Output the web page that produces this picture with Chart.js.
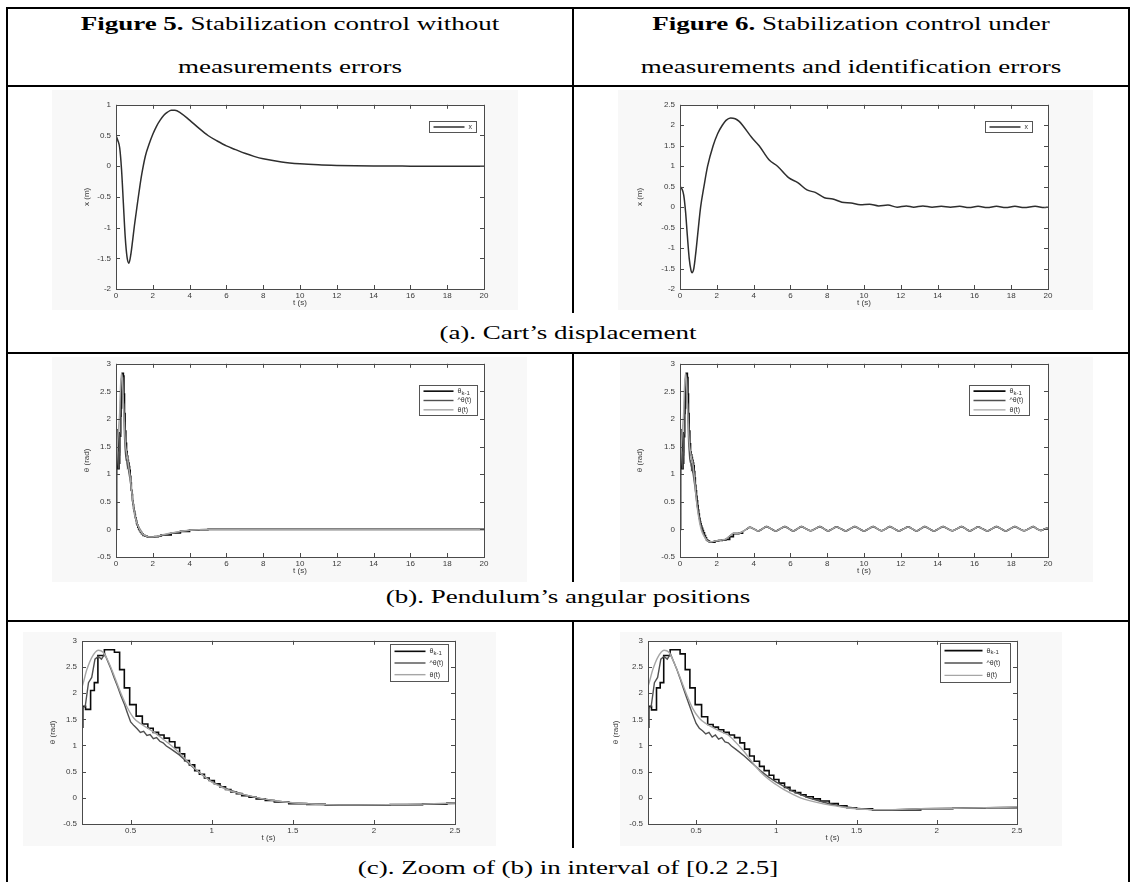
<!DOCTYPE html>
<html>
<head>
<meta charset="utf-8">
<script src="https://cdn.jsdelivr.net/npm/chart.js@4.4.1/dist/chart.umd.min.js"></script>
<style>
  body { margin: 0; width: 1132px; height: 882px; position: relative; overflow: hidden; background: #fff;
         font-family: "Liberation Serif", "Times New Roman", serif; color: #000; }
  .ln { position: absolute; background: #000; }
  .txt { position: absolute; text-align: center; font-size: 18px; white-space: nowrap;
         transform: scaleX(1.5); transform-origin: 50% 50%; }
  .fig { position: absolute; background: #f8f8f8; }
  canvas { position: absolute; }
</style>
</head>
<body>

<!-- light grey background of the pasted matlab figures -->
<div class="fig" style="left:52px;top:90px;width:466px;height:220px"></div>
<div class="fig" style="left:618px;top:90px;width:475px;height:220px"></div>
<div class="fig" style="left:52px;top:357px;width:475px;height:225px"></div>
<div class="fig" style="left:620px;top:357px;width:473px;height:225px"></div>
<div class="fig" style="left:23px;top:632px;width:473px;height:214px"></div>
<div class="fig" style="left:620px;top:632px;width:442px;height:214px"></div>

<!-- table rules -->
<div class="ln" style="left:6px;top:7px;width:1124px;height:2px"></div>
<div class="ln" style="left:6px;top:7px;width:2px;height:875px"></div>
<div class="ln" style="left:1128px;top:7px;width:2px;height:875px"></div>
<div class="ln" style="left:6px;top:85px;width:1124px;height:2px"></div>
<div class="ln" style="left:6px;top:352px;width:1124px;height:2px"></div>
<div class="ln" style="left:6px;top:620px;width:1124px;height:2px"></div>
<div class="ln" style="left:572px;top:7px;width:2px;height:306px"></div>
<div class="ln" style="left:572px;top:353px;width:2px;height:229px"></div>
<div class="ln" style="left:572px;top:621px;width:2px;height:227px"></div>

<div class="txt" style="left:8px;width:564px;top:13px;line-height:22px"><b>Figure 5.</b> Stabilization control without</div>
<div class="txt" style="left:8px;width:564px;top:56px;line-height:22px">measurements errors</div>
<div class="txt" style="left:574px;width:554px;top:13px;line-height:22px"><b>Figure 6.</b> Stabilization control under</div>
<div class="txt" style="left:574px;width:554px;top:56px;line-height:22px">measurements and identification errors</div>
<div class="txt" style="left:8px;width:1120px;top:322px;line-height:22px">(a). Cart’s displacement</div>
<div class="txt" style="left:8px;width:1120px;top:586px;line-height:22px">(b). Pendulum’s angular positions</div>
<div class="txt" style="left:8px;width:1120px;top:857px;line-height:22px">(c). Zoom of (b) in interval of [0.2 2.5]</div>

<canvas id="a5" width="416" height="213" style="left:80px;top:95px"></canvas>
<canvas id="a6" width="427" height="213" style="left:633px;top:95px"></canvas>
<canvas id="b5" width="416" height="222" style="left:80px;top:354px"></canvas>
<canvas id="b6" width="427" height="222" style="left:633px;top:354px"></canvas>
<canvas id="c5" width="421" height="212" style="left:46px;top:631px"></canvas>
<canvas id="c6" width="420" height="212" style="left:609px;top:631px"></canvas>

<script>
// tick values
const ticksLongT = [0, 2, 4, 6, 8, 10, 12, 14, 16, 18, 20];
const ticksZoomT = [0.5, 1, 1.5, 2, 2.5];
const ticksCart5 = [-2, -1.5, -1, -0.5, 0, 0.5, 1];
const ticksCart6 = [-2, -1.5, -1, -0.5, 0, 0.5, 1, 1.5, 2, 2.5];
const ticksTheta = [-0.5, 0, 0.5, 1, 1.5, 2, 2.5, 3];

const legendCart = ['x'];
const legendTheta = ['θ_{k-1}', '^θ(t)', 'θ(t)'];

// (a) cart displacement, figure 5
const tCart5 = [0,0.1,0.2,0.3,0.4,0.5,0.6,0.7,0.8,0.9,1.0,1.1,1.2,1.3,1.4,1.6,1.8,2.0,2.2,2.4,2.6,2.8,3.0,3.2,3.5,4.0,4.5,5.0,5.5,6.0,6.5,7.0,7.5,8.0,9,10,11,12,13,14,16,18,20];
const xCart5 = [0.5,0.42,0.3,-0.05,-0.6,-1.15,-1.48,-1.58,-1.45,-1.22,-0.97,-0.75,-0.53,-0.32,-0.13,0.17,0.36,0.52,0.65,0.75,0.83,0.88,0.91,0.91,0.87,0.75,0.62,0.5,0.41,0.33,0.27,0.21,0.16,0.12,0.07,0.04,0.022,0.012,0.006,0.003,0.001,0,0];

// (a) cart displacement, figure 6
const tCart6 = [0,0.1,0.2,0.3,0.4,0.5,0.6,0.65,0.75,0.85,1.0,1.12,1.3,1.5,1.8,2.05,2.3,2.5,2.75,3.0,3.2,3.4,3.9,4.3,4.85,5.3,5.9,6.4,6.9,7.35,7.85,8.3,8.8,9.3,9.8,10.3,10.8,11.3,11.8,12.3,12.7,13.2,13.7,14.2,14.7,15.2,15.7,16.2,16.7,17.2,17.7,18.2,18.7,19.3,19.8,20];
const xCart6 = [0.5,0.45,0.3,-0.1,-0.7,-1.25,-1.55,-1.6,-1.5,-1.15,-0.5,0.0,0.5,1.0,1.5,1.8,2.0,2.12,2.18,2.16,2.1,2.0,1.7,1.5,1.15,1.0,0.72,0.6,0.42,0.36,0.23,0.2,0.12,0.1,0.06,0.07,0.03,0.05,0.0,0.03,0.0,0.03,0.0,0.02,0.0,0.02,-0.01,0.02,-0.01,0.02,-0.01,0.02,-0.01,0.02,-0.01,0.0];

// (b)/(c) pendulum angle, figure 5
const tTrue5 = [0,0.04,0.08,0.12,0.16,0.2,0.23,0.26,0.3,0.33,0.36,0.4,0.44,0.48,0.52,0.56,0.6,0.65,0.7,0.75,0.8,0.85,0.9,0.95,1.0,1.05,1.1,1.2,1.3,1.4,1.5,1.6,1.7,1.9,2.1,2.3,2.5,3.0,3.5,4.0,4.5,5,10,15,20];
const thTrue5 = [1.0,1.3,1.55,1.75,1.93,2.12,2.45,2.68,2.82,2.78,2.62,2.32,2.0,1.72,1.52,1.42,1.34,1.24,1.12,1.0,0.86,0.7,0.55,0.42,0.3,0.22,0.15,0.06,-0.01,-0.06,-0.095,-0.115,-0.13,-0.135,-0.13,-0.12,-0.1,-0.065,-0.035,-0.015,-0.005,0,0,0,0];
const tHat5 = [0,0.03,0.07,0.11,0.15,0.18,0.2,0.22,0.24,0.26,0.28,0.3,0.32,0.34,0.36,0.38,0.4,0.42,0.44,0.46,0.48,0.5,0.52,0.54,0.56,0.58,0.6,0.62,0.64,0.66,0.68,0.7,0.72,0.75,0.8,0.85,0.9,0.95,1.0,1.1,1.2,1.3,1.4,1.5,1.7,2.0,2.2,2.5,3.0,3.5,4.0,4.5,5,10,15,20];
const thHat5 = [1.0,1.5,1.8,1.4,1.1,1.4,1.7,1.75,2.2,2.3,2.65,2.7,2.65,2.75,2.6,2.45,2.28,2.12,1.95,1.8,1.62,1.45,1.38,1.32,1.25,1.27,1.19,1.21,1.13,1.15,1.08,1.05,0.99,0.93,0.82,0.68,0.54,0.42,0.31,0.16,0.06,-0.01,-0.06,-0.1,-0.13,-0.14,-0.13,-0.11,-0.07,-0.04,-0.015,-0.005,0,0,0,0];
const tStep5 = [0,0.033,0.067,0.1,0.133,0.167,0.2,0.205,0.222,0.253,0.276,0.298,0.338,0.4,0.432,0.461,0.494,0.534,0.572,0.606,0.639,0.672,0.706,0.739,0.773,0.802,0.833,0.862,0.895,0.924,0.955,0.984,1.016,1.051,1.085,1.118,1.152,1.185,1.23,1.274,1.33,1.386,1.475,1.586,1.7,1.9,2.1,2.3,2.45,3.0,3.5,4,4.5,5,20];
const thStep5 = [0,1.1,1.8,1.75,1.1,1.2,1.35,1.75,1.69,2.05,2.2,2.72,2.83,2.78,2.45,2.1,1.78,1.56,1.41,1.33,1.25,1.2,1.14,1.07,0.96,0.84,0.71,0.63,0.52,0.45,0.38,0.33,0.27,0.21,0.16,0.11,0.08,0.04,0.01,-0.02,-0.05,-0.08,-0.11,-0.125,-0.135,-0.135,-0.13,-0.12,-0.1,-0.065,-0.035,-0.015,-0.005,0,0];

// (b)/(c) pendulum angle, figure 6 (first seconds)
const tTrue6 = [0,0.04,0.08,0.12,0.16,0.2,0.23,0.26,0.3,0.33,0.36,0.4,0.44,0.48,0.52,0.56,0.6,0.65,0.7,0.75,0.8,0.85,0.9,0.95,1.0,1.05,1.1,1.15,1.2,1.3,1.4,1.5,1.6,1.7,1.9,2.1,2.3,2.5,2.7,2.9,3.2,3.4];
const thTrue6 = [1.0,1.3,1.55,1.75,1.93,2.13,2.45,2.68,2.82,2.78,2.6,2.3,1.98,1.7,1.52,1.42,1.35,1.27,1.2,1.05,0.88,0.68,0.5,0.36,0.25,0.15,0.07,0.0,-0.05,-0.12,-0.17,-0.21,-0.225,-0.225,-0.21,-0.2,-0.19,-0.17,-0.12,-0.07,-0.07,-0.04];
const tHat6 = [0,0.03,0.07,0.11,0.15,0.18,0.2,0.22,0.24,0.26,0.28,0.3,0.32,0.34,0.36,0.38,0.4,0.42,0.44,0.46,0.48,0.5,0.52,0.54,0.56,0.58,0.6,0.62,0.64,0.66,0.68,0.7,0.72,0.75,0.8,0.85,0.9,0.95,1.0,1.1,1.2,1.3,1.4,1.5,1.6,1.7,1.9,2.1,2.3,2.5,2.7,2.9,3.2,3.4];
const thHat6 = [1.0,1.5,1.8,1.4,1.1,1.4,1.7,1.75,2.2,2.3,2.65,2.7,2.65,2.75,2.6,2.45,2.28,2.1,1.92,1.75,1.58,1.42,1.33,1.28,1.22,1.25,1.16,1.2,1.12,1.15,1.07,1.05,0.99,0.92,0.8,0.66,0.52,0.4,0.3,0.13,0.0,-0.09,-0.16,-0.2,-0.23,-0.23,-0.21,-0.2,-0.19,-0.18,-0.12,-0.07,-0.07,-0.04];
const tStep6 = [0,0.033,0.067,0.1,0.133,0.167,0.2,0.205,0.222,0.253,0.276,0.298,0.338,0.4,0.432,0.461,0.494,0.534,0.572,0.606,0.639,0.672,0.706,0.739,0.773,0.802,0.833,0.862,0.895,0.924,0.955,0.984,1.016,1.051,1.085,1.118,1.152,1.185,1.23,1.274,1.33,1.386,1.44,1.5,1.6,1.7,1.9,2.1,2.3,2.5,2.7,2.9,3.2,3.4];
const thStep6 = [0,1.1,1.8,1.75,1.1,1.2,1.35,1.75,1.68,2.1,2.2,2.72,2.83,2.75,2.45,2.1,1.78,1.55,1.4,1.35,1.3,1.25,1.2,1.15,1.05,0.93,0.8,0.7,0.6,0.52,0.43,0.35,0.28,0.2,0.14,0.1,0.06,0.02,-0.02,-0.06,-0.11,-0.15,-0.19,-0.21,-0.23,-0.23,-0.21,-0.2,-0.19,-0.18,-0.13,-0.08,-0.07,-0.04];
// residual oscillation of figure 6 after 3.5 s (shared by the three curves)
const waveT6 = [3.6,3.8,4.03,4.25,4.48,4.7,4.95,5.2,5.45,5.7,5.93,6.15,6.38,6.6,6.85,7.1,7.35,7.6,7.83,8.05,8.28,8.5,8.75,9.0,9.25,9.5,9.75,10.0,10.25,10.5,10.73,10.95,11.18,11.4,11.65,11.9,12.15,12.4,12.63,12.85,13.08,13.3,13.55,13.8,14.05,14.3,14.55,14.8,15.05,15.3,15.53,15.75,15.98,16.2,16.45,16.7,16.95,17.2,17.45,17.7,17.95,18.2,18.45,18.7,18.95,19.2,19.4,19.6,19.8,20];
const waveY6 = [0.0,0.04,0.005,-0.03,0.01,0.05,0.01,-0.03,0.01,0.05,0.01,-0.03,0.01,0.05,0.01,-0.025,0.01,0.05,0.01,-0.03,0.01,0.045,0.01,-0.03,0.01,0.05,0.01,-0.03,0.01,0.05,0.01,-0.025,0.01,0.05,0.01,-0.03,0.01,0.045,0.01,-0.03,0.01,0.05,0.01,-0.03,0.01,0.05,0.01,-0.025,0.01,0.05,0.01,-0.03,0.01,0.045,0.01,-0.03,0.01,0.05,0.01,-0.03,0.01,0.05,0.01,-0.025,0.01,0.05,0.01,-0.02,0.005,0.03];

const pts = (t, y) => t.map((v, i) => ({ x: v, y: y[i] }));
const tickFont = { family: '"Liberation Sans", Arial, sans-serif', size: 8 };
const tickColor = '#3a3a3a';

// MATLAB-like box, inward ticks on all sides, and the little legend box
const matlabAxes = {
  id: 'matlabAxes',
  beforeDatasetsDraw(chart) {
    const { ctx, chartArea: a } = chart;
    ctx.save();
    ctx.fillStyle = '#fff';
    ctx.fillRect(a.left, a.top, a.right - a.left, a.bottom - a.top);
    ctx.restore();
  },
  afterDatasetsDraw(chart, args, opts) {
    const { ctx, chartArea: a, scales } = chart;
    ctx.save();
    ctx.strokeStyle = '#4a4a4a';
    ctx.lineWidth = 1;
    ctx.strokeRect(Math.round(a.left) + 0.5, Math.round(a.top) + 0.5, Math.round(a.right - a.left), Math.round(a.bottom - a.top));
    ctx.beginPath();
    scales.x.ticks.forEach(t => {
      const p = Math.round(scales.x.getPixelForValue(t.value)) + 0.5;
      ctx.moveTo(p, a.bottom); ctx.lineTo(p, a.bottom - 4);
      ctx.moveTo(p, a.top); ctx.lineTo(p, a.top + 4);
    });
    scales.y.ticks.forEach(t => {
      const p = Math.round(scales.y.getPixelForValue(t.value)) + 0.5;
      ctx.moveTo(a.left, p); ctx.lineTo(a.left + 4, p);
      ctx.moveTo(a.right, p); ctx.lineTo(a.right - 4, p);
    });
    ctx.stroke();

    // legend
    const items = chart.data.datasets.filter(d => d.label);
    const bx = Math.round(a.right - opts.dx - opts.w) + 0.5;
    const by = Math.round(a.top + opts.dy) + 0.5;
    ctx.fillStyle = '#fff';
    ctx.fillRect(bx, by, opts.w, opts.h);
    ctx.strokeStyle = '#555';
    ctx.lineWidth = 1;
    ctx.strokeRect(bx, by, opts.w, opts.h);
    const rowH = (opts.h - 2) / items.length;
    items.forEach((d, i) => {
      const cy = by + 1 + rowH * (i + 0.5);
      ctx.strokeStyle = d.borderColor;
      ctx.lineWidth = d.borderWidth;
      ctx.beginPath();
      ctx.moveTo(bx + 4, cy); ctx.lineTo(bx + 4 + opts.line, cy);
      ctx.stroke();
      drawLabel(ctx, d.label, bx + 8 + opts.line, cy);
    });
    ctx.restore();
  }
};

function drawLabel(ctx, s, x, y) {
  ctx.fillStyle = '#333';
  ctx.textBaseline = 'middle';
  ctx.textAlign = 'left';
  const parts = s.split(/_\{([^}]*)\}/);
  parts.forEach((p, i) => {
    if (!p) return;
    const sub = i % 2 === 1;
    ctx.font = (sub ? 6 : 7) + 'px "Liberation Sans", Arial, sans-serif';
    ctx.fillText(p, x, sub ? y + 2 : y);
    x += ctx.measureText(p).width;
  });
}

function axis(min, max, ticks, title, size) {
  const isX = size === 'x';
  return {
    type: 'linear', min: min, max: max,
    grid: { display: false, drawTicks: false, tickLength: 0 }, border: { display: false },
    afterBuildTicks: s => { s.ticks = ticks.map(v => ({ value: v })); },
    afterFit: s => { if (isX) s.height = 19; else s.width = size; },
    ticks: { font: tickFont, color: tickColor, padding: isX ? 2 : 5, maxRotation: 0, autoSkip: false, callback: v => String(v) },
    title: { display: true, text: title, font: tickFont, color: tickColor, padding: isX ? 0 : 2 }
  };
}

function draw(id, datasets, xa, ya, leg) {
  new Chart(document.getElementById(id), {
    type: 'line',
    data: { datasets: datasets },
    options: {
      responsive: false, animation: false, events: [],
      layout: { padding: { top: 8, right: 12, left: 0, bottom: 0 } },
      elements: { point: { radius: 0 } },
      plugins: { legend: { display: false }, tooltip: { enabled: false }, matlabAxes: leg },
      scales: { x: xa, y: ya }
    },
    plugins: [matlabAxes]
  });
}

function cartSet(t, x) {
  return [{ label: legendCart[0], data: pts(t, x), borderColor: '#2e2e2e', borderWidth: 1.5,
            cubicInterpolationMode: 'monotone', clip: 0 }];
}

const stepColor = '#0a0a0a', hatColor = '#505050', trueColor = '#a6a6a6';

function thetaSets(ts, ys, th, yh, tt, yt) {
  return [
    { label: legendTheta[0], data: pts(ts, ys), borderColor: stepColor, borderWidth: 1.6, stepped: true, order: 3, clip: 0 },
    { label: legendTheta[1], data: pts(th, yh), borderColor: hatColor, borderWidth: 1.4, tension: 0, order: 2, clip: 0 },
    { label: legendTheta[2], data: pts(tt, yt), borderColor: trueColor, borderWidth: 1.4, cubicInterpolationMode: 'monotone', order: 1, clip: 0 }
  ];
}

const sets5 = () => thetaSets(tStep5, thStep5, tHat5, thHat5, tTrue5, thTrue5);
// figure 6: the sampled signal's tail is drawn as a plain line under the two others
const sets6 = () => thetaSets(tStep6, thStep6,
                              tHat6.concat(waveT6), thHat6.concat(waveY6),
                              tTrue6.concat(waveT6), thTrue6.concat(waveY6))
  .concat([{ data: pts(waveT6, waveY6), borderColor: stepColor, borderWidth: 1.6,
             cubicInterpolationMode: 'monotone', order: 4, clip: 0 }]);

draw('a5', cartSet(tCart5, xCart5), axis(0, 20, ticksLongT, 't (s)', 'x'), axis(-2, 1, ticksCart5, 'x (m)', 36),
     { w: 47, h: 11, dx: 8, dy: 16, line: 31 });
draw('a6', cartSet(tCart6, xCart6), axis(0, 20, ticksLongT, 't (s)', 'x'), axis(-2, 2.5, ticksCart6, 'x (m)', 47),
     { w: 47, h: 11, dx: 16, dy: 16, line: 31 });
draw('b5', sets5(), axis(0, 20, ticksLongT, 't (s)', 'x'), axis(-0.5, 3, ticksTheta, 'θ (rad)', 36),
     { w: 58, h: 30, dx: 7, dy: 21, line: 30 });
draw('b6', sets6(), axis(0, 20, ticksLongT, 't (s)', 'x'), axis(-0.5, 3, ticksTheta, 'θ (rad)', 47),
     { w: 60, h: 30, dx: 19, dy: 21, line: 32 });
draw('c5', sets5(), axis(0.2, 2.5, ticksZoomT, 't (s)', 'x'), axis(-0.5, 3, ticksTheta, 'θ (rad)', 36),
     { w: 58, h: 37, dx: 7, dy: 3, line: 31 });
draw('c6', sets6(), axis(0.2, 2.5, ticksZoomT, 't (s)', 'x'), axis(-0.5, 3, ticksTheta, 'θ (rad)', 39),
     { w: 70, h: 39, dx: 7, dy: 2, line: 38 });
</script>
</body>
</html>
